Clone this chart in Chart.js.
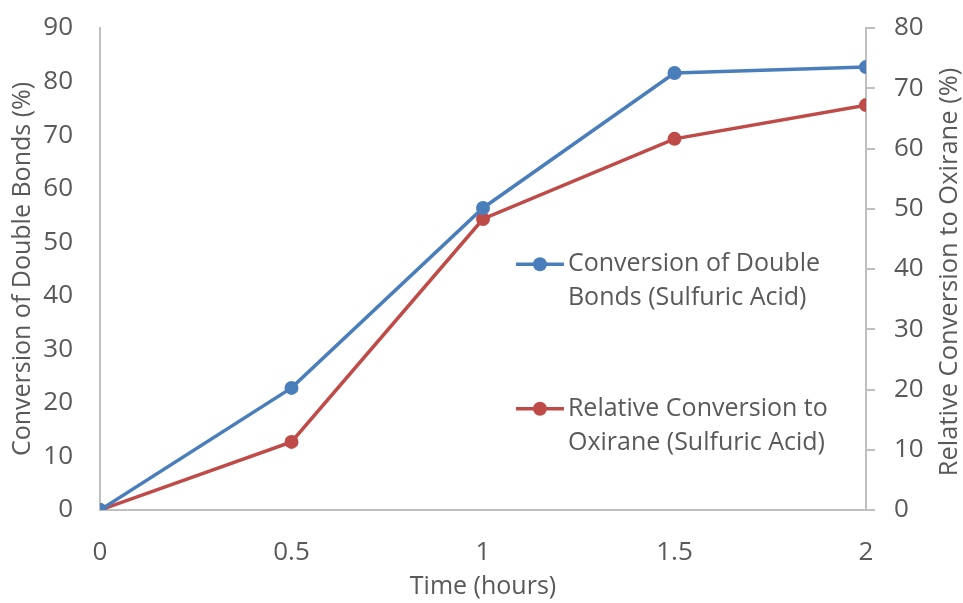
<!DOCTYPE html>
<html>
<head>
<meta charset="utf-8">
<script src="https://cdn.jsdelivr.net/npm/chart.js@4.4.0/dist/chart.umd.min.js"></script>
<style>
	html, body { margin: 0; padding: 0; background: #fff; }
	#wrap { width: 963px; height: 603px; }
</style>
</head>
<body>
<div id="wrap"><canvas id="bieuDo"></canvas></div>
<script>
	// Data
	var time_hours = [0, 0.5, 1, 1.5, 2]
	var double_bonds = [0, 22.8, 56.4, 81.6, 82.7]
	var oxirane = [0, 11.3, 48.3, 61.6, 67.2]
	var series_labels = ["Conversion of Double Bonds (Sulfuric Acid)", "Relative Conversion to Oxirane (Sulfuric Acid)"]
	var legend_lines = [["Conversion of Double", "Bonds (Sulfuric Acid)"], ["Relative Conversion to", "Oxirane (Sulfuric Acid)"]]
	var right_title = "Relative Conversion to Oxirane (%)"

	var BLUE = '#4a7ebb'
	var RED = '#be4b48'
	var AXIS = '#bfbfbf'
	var TEXT = '#595959'

	Chart.defaults.font.family = "'Open Sans', sans-serif"
	Chart.defaults.font.size = 25
	Chart.defaults.color = TEXT

	// Legend drawn inside the plot, two lines per entry
	var insideLegend = {
		id: 'insideLegend',
		afterDraw: function(chart) {
			var ctx = chart.ctx
			var area = chart.chartArea
			var x0 = area.left + (area.right - area.left) * 0.543
			var rows = [0.49, 0.79]
			ctx.save()
			chart.data.datasets.forEach(function(ds, i) {
				var y = area.top + (area.bottom - area.top) * rows[i]
				ctx.strokeStyle = ds.borderColor
				ctx.lineWidth = 3.5
				ctx.beginPath()
				ctx.moveTo(x0, y)
				ctx.lineTo(x0 + 48, y)
				ctx.stroke()
				ctx.fillStyle = ds.borderColor
				ctx.beginPath()
				ctx.arc(x0 + 24, y, 7, 0, Math.PI * 2)
				ctx.fill()
				ctx.fillStyle = TEXT
				ctx.font = "25px 'Open Sans', sans-serif"
				ctx.textBaseline = 'middle'
				ctx.textAlign = 'left'
				legend_lines[i].forEach(function(line, j) {
					ctx.fillText(line, x0 + 52, y + j * 34)
				})
			})
			ctx.restore()
		}
	}

	// Right axis title reads bottom to top, like the left one
	var rightTitle = {
		id: 'rightTitle',
		afterDraw: function(chart) {
			var ctx = chart.ctx
			var area = chart.chartArea
			ctx.save()
			ctx.translate(chart.width - 13, (area.top + area.bottom) / 2 + 3)
			ctx.rotate(-Math.PI / 2)
			ctx.fillStyle = TEXT
			ctx.font = "25.5px 'Open Sans', sans-serif"
			ctx.textAlign = 'center'
			ctx.textBaseline = 'middle'
			ctx.fillText(right_title, 0, 0)
			ctx.restore()
		}
	}

	var ctx = document.getElementById("bieuDo").getContext("2d")
	var chart = new Chart(ctx, {
		type: "line",
		data: {
			datasets: [{
				label: series_labels[0],
				data: time_hours.map((t, i) => ({ x: t, y: double_bonds[i] })),
				borderColor: BLUE,
				backgroundColor: BLUE,
				yAxisID: 'y'
			}, {
				label: series_labels[1],
				data: time_hours.map((t, i) => ({ x: t, y: oxirane[i] })),
				borderColor: RED,
				backgroundColor: RED,
				yAxisID: 'y2'
			}]
		},
		options: {
			responsive: true,
			maintainAspectRatio: false,
			animation: false,
			layout: { padding: { top: 28 } },
			elements: {
				line: { borderWidth: 3.5, tension: 0 },
				point: { radius: 7, borderWidth: 0, hoverRadius: 7 }
			},
			plugins: {
				legend: { display: false },
				tooltip: { enabled: false }
			},
			scales: {
				x: {
					type: 'linear',
					min: 0,
					max: 2,
					grid: { display: false, drawTicks: false },
					border: { display: true, color: AXIS, width: 2 },
					ticks: { stepSize: 0.5, padding: 27, font: { size: 26 }, callback: v => String(v) },
					title: { display: true, text: 'Time (hours)', padding: { top: 0, bottom: 1 } },
					afterFit: function(axis) { axis.height = 93 }
				},
				y: {
					position: 'left',
					min: 0,
					max: 90,
					grid: { display: false, drawTicks: false },
					border: { display: true, color: AXIS, width: 2 },
					ticks: { stepSize: 10, padding: 27, font: { size: 26 } },
					title: { display: true, text: 'Conversion of Double Bonds (%)', padding: { top: 8, bottom: 0 } },
					afterFit: function(axis) { axis.width = 100; axis.paddingTop = 0; axis.paddingBottom = 0 }
				},
				y2: {
					position: 'right',
					min: 0,
					max: 80,
					grid: { drawOnChartArea: false, drawTicks: true, tickLength: 9, color: AXIS, lineWidth: 2 },
					border: { display: true, color: AXIS, width: 2 },
					ticks: { stepSize: 10, padding: 19, font: { size: 26 } },
					afterFit: function(axis) { axis.width = 97; axis.paddingTop = 0; axis.paddingBottom = 0 }
				}
			}
		},
		plugins: [insideLegend, rightTitle]
	})
</script>
</body>
</html>
